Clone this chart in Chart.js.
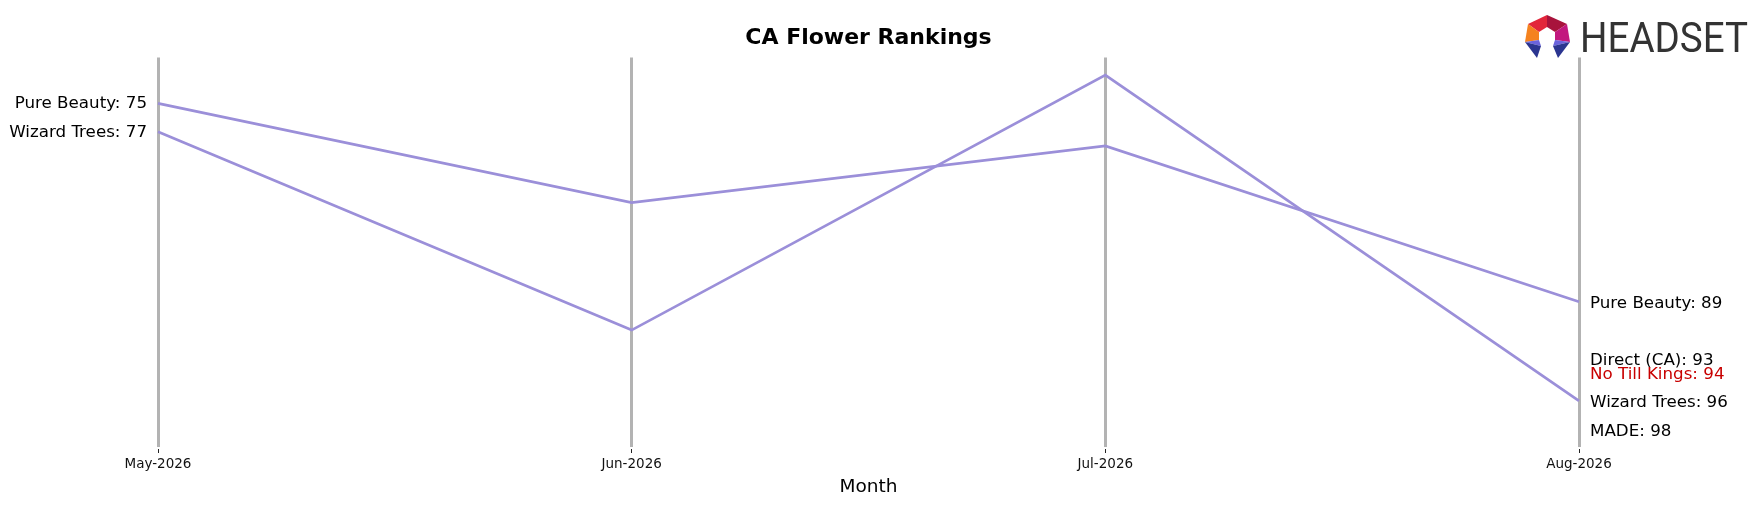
<!DOCTYPE html>
<html lang="en">
<head>
    <meta charset="UTF-8">
    <title>CA Flower Rankings</title>
    <script src="https://cdn.jsdelivr.net/npm/chart.js"></script>
    <style>
        body { margin: 0; background: #fff; }
        canvas { display: block; }
    </style>
</head>
<body>
    <canvas id="rankChart" width="1762" height="506"></canvas>

    <script>
        // months on the x axis
        var months = ['May-2026', 'Jun-2026', 'Jul-2026', 'Aug-2026'];

        // rank per brand (null = not ranked that month)
        var brands = ['Pure Beauty', 'Wizard Trees', 'Direct (CA)', 'No Till Kings', 'MADE'];
        var pureBeauty  = [75, 82, 78, 89];
        var wizardTrees = [77, 91, 73, 96];
        var directCA    = [null, null, null, 93];
        var noTillKings = [null, null, null, 94];
        var made        = [null, null, null, 98];
        var labelColors = ['#000000', '#000000', '#000000', '#c80000', '#000000'];

        var lineColor = '#9b8fd9';
        var seriesList = [pureBeauty, wizardTrees, directCA, noTillKings, made];

        var datasets = seriesList.map(function (values, i) {
            return {
                label: brands[i],
                data: values,
                borderColor: lineColor,
                borderWidth: 2.7,
                pointRadius: 0,
                tension: 0,
                fill: false
            };
        });

        // brand labels at both ends of the lines
        var endLabels = {
            id: 'endLabels',
            afterDatasetsDraw: function (chart) {
                var ctx = chart.ctx;
                var xs = chart.scales.x, ys = chart.scales.y;
                var last = months.length - 1;
                ctx.save();
                ctx.font = '16.7px "DejaVu Sans"';
                ctx.textBaseline = 'middle';
                seriesList.forEach(function (values, i) {
                    ctx.fillStyle = labelColors[i];
                    if (values[0] !== null) {
                        ctx.textAlign = 'right';
                        ctx.fillText(brands[i] + ': ' + values[0],
                            xs.getPixelForValue(0) - 11, ys.getPixelForValue(values[0]) + 0.5);
                    }
                    if (values[last] !== null) {
                        ctx.textAlign = 'left';
                        ctx.fillText(brands[i] + ': ' + values[last],
                            xs.getPixelForValue(last) + 11, ys.getPixelForValue(values[last]) + 2);
                    }
                });
                ctx.restore();
            }
        };

        // HEADSET logo, top right
        var logo = {
            id: 'logo',
            afterDraw: function (chart) {
                var ctx = chart.ctx;
                ctx.save();
                function poly(color, pts) {
                    ctx.fillStyle = color;
                    ctx.beginPath();
                    ctx.moveTo(pts[0][0], pts[0][1]);
                    for (var k = 1; k < pts.length; k++) ctx.lineTo(pts[k][0], pts[k][1]);
                    ctx.closePath();
                    ctx.fill();
                }
                poly('#e2263b', [[1547, 15], [1547, 27], [1539, 32], [1528, 24]]);
                poly('#a8133c', [[1547, 15], [1567, 24], [1555, 32], [1547, 27]]);
                poly('#f5821f', [[1528, 24], [1539, 32], [1539, 40], [1525, 42]]);
                poly('#c2187e', [[1567, 24], [1570, 42], [1555, 40], [1555, 32]]);
                poly('#6a63dc', [[1525, 42], [1539, 40], [1541, 46]]);
                poly('#6a63dc', [[1570, 42], [1555, 40], [1553, 46]]);
                poly('#2b3590', [[1525, 42], [1541, 46], [1537, 58]]);
                poly('#2b3590', [[1570, 42], [1553, 46], [1558, 58]]);

                ctx.fillStyle = '#333333';
                ctx.font = '42px Roboto';
                ctx.textBaseline = 'alphabetic';
                ctx.textAlign = 'left';
                var w = ctx.measureText('HEADSET').width;
                ctx.translate(1580, 52);
                ctx.scale(168 / w, 1);
                ctx.fillText('HEADSET', 0, 0);
                ctx.restore();
            }
        };

        var ctx = document.getElementById('rankChart').getContext('2d');
        var rankChart = new Chart(ctx, {
            type: 'line',
            data: { labels: months, datasets: datasets },
            options: {
                responsive: false,
                animation: false,
                layout: { padding: { left: 158, right: 183, top: 0, bottom: 0 } },
                plugins: {
                    legend: { display: false },
                    tooltip: { enabled: false },
                    title: {
                        display: true,
                        text: 'CA Flower Rankings',
                        color: '#000',
                        font: { family: 'DejaVu Sans', size: 22, weight: 'bold', lineHeight: 1.2 },
                        padding: { top: 25, bottom: 6 }
                    }
                },
                scales: {
                    x: {
                        offset: false,
                        border: { display: false },
                        grid: {
                            color: '#b3b3b3',
                            lineWidth: 3,
                            drawTicks: true,
                            tickLength: 6,
                            tickColor: '#222',
                            tickWidth: 1,
                            tickBorderDash: [0, 2, 4, 20]
                        },
                        ticks: {
                            color: '#111',
                            padding: 3,
                            maxRotation: 0,
                            font: { family: 'DejaVu Sans', size: 13.5 }
                        },
                        title: {
                            display: true,
                            text: 'Month',
                            color: '#000',
                            font: { family: 'DejaVu Sans', size: 18.5, lineHeight: 1.2 },
                            padding: { top: 4, bottom: 8 }
                        },
                        afterFit: function (scale) { scale.height = 59; }
                    },
                    y: {
                        display: false,
                        reverse: true,
                        min: 71.75,
                        max: 99.25
                    }
                }
            },
            plugins: [endLabels, logo]
        });
    </script>
</body>
</html>
